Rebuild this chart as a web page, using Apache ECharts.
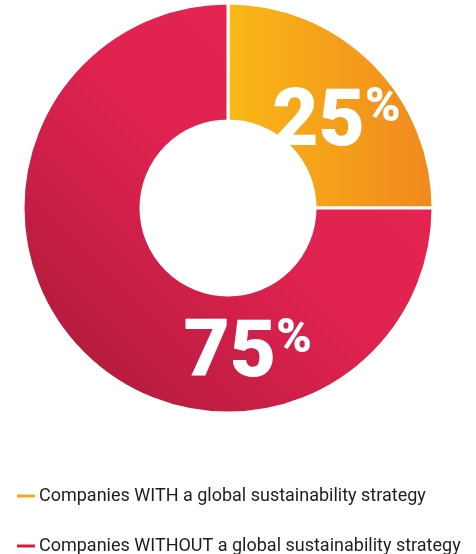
<!DOCTYPE html>
<html>
<head>
<meta charset="utf-8">
<script src="https://cdn.jsdelivr.net/npm/echarts@6/dist/echarts.min.js"></script>
<style>
  html, body { margin: 0; padding: 0; background: #fff; }
  #chart { width: 476px; height: 554px; }
</style>
</head>
<body>
<div id="chart"></div>
<script>
// Share of companies by whether they have a global sustainability strategy
const categories = [
  'Companies WITH a global sustainability strategy',
  'Companies WITHOUT a global sustainability strategy'
];
const shares = [25, 75];
const legendColors = ['#F9A61A', '#E3183A'];

const fills = [
  new echarts.graphic.LinearGradient(0, 0, 1, 0, [
    { offset: 0, color: '#FAB816' },
    { offset: 1, color: '#F0881F' }
  ]),
  new echarts.graphic.LinearGradient(1, 0, 0, 1, [
    { offset: 0, color: '#EA2551' },
    { offset: 0.5, color: '#DF2250' },
    { offset: 1, color: '#A61937' }
  ])
];
const labelOffsets = [[3, 22], [125, 43]];
const legendTops = [482, 532];

const chart = echarts.init(document.getElementById('chart'), null, { renderer: 'canvas' });

chart.setOption({
  animation: false,
  // one legend block per row keeps each entry on its own line
  legend: categories.map((name, i) => ({
    orient: 'vertical',
    left: 12,
    top: legendTops[i],
    itemWidth: 18,
    itemHeight: 3,
    itemGap: 0,
    icon: 'rect',
    textStyle: {
      fontFamily: 'Roboto',
      fontSize: 18,
      color: '#1e1e1e',
      padding: [0, 0, 0, -1]
    },
    data: [{
      name: name,
      itemStyle: { color: legendColors[i], borderWidth: 0 }
    }]
  })),
  series: [{
    type: 'pie',
    center: [228, 208],
    radius: [87, 205],
    startAngle: 90,
    clockwise: true,
    silent: true,
    itemStyle: { borderColor: '#ffffff', borderWidth: 3 },
    labelLine: { show: false },
    data: categories.map((name, i) => ({
      name: name,
      value: shares[i],
      itemStyle: { color: fills[i] },
      label: {
        show: true,
        position: 'inside',
        offset: labelOffsets[i],
        formatter: '{n|' + shares[i] + '}{p|%}',
        rich: {
          n: {
            fontFamily: 'Roboto',
            fontWeight: 900,
            fontSize: 80,
            color: '#ffffff',
            lineHeight: 80,
            verticalAlign: 'bottom'
          },
          p: {
            fontFamily: 'Roboto',
            fontWeight: 900,
            fontSize: 48,
            color: '#ffffff',
            lineHeight: 80,
            verticalAlign: 'top',
            padding: [0, 0, 36, 0]
          }
        }
      }
    }))
  }]
});
</script>
</body>
</html>
